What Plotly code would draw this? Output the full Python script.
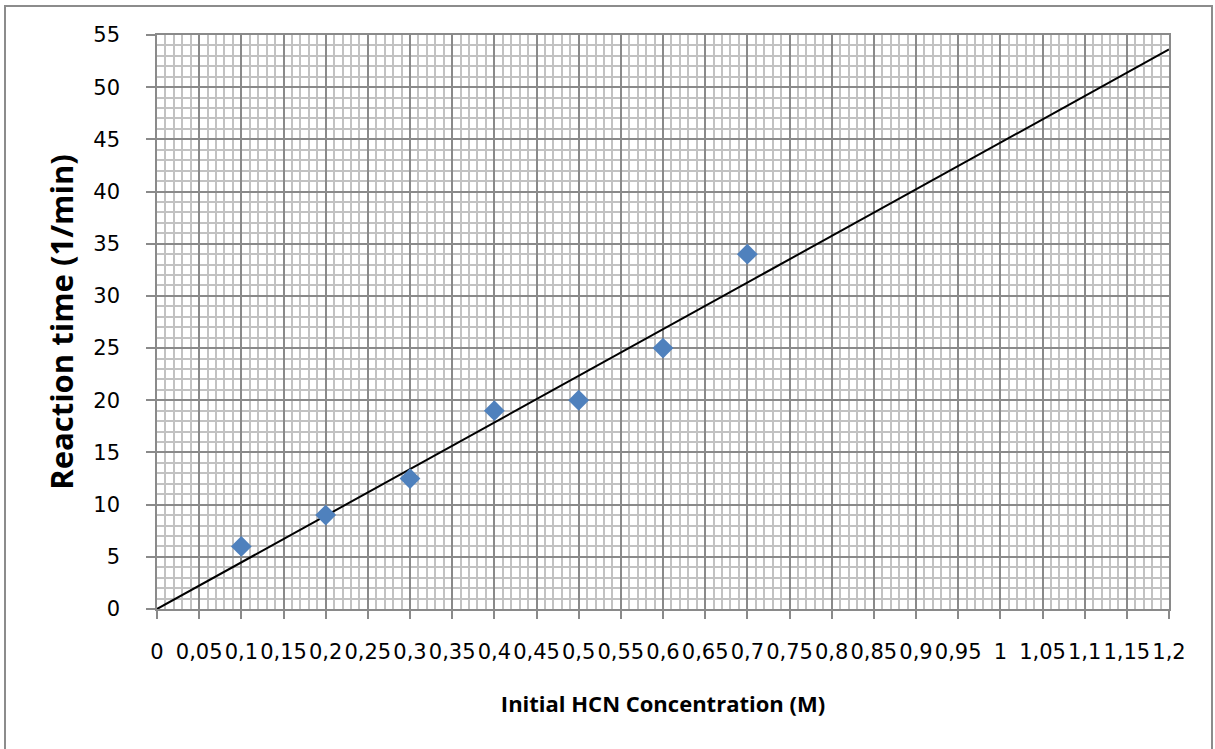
import numpy as np
import plotly.graph_objects as go

# measured points
hcn_conc = [0.1, 0.2, 0.3, 0.4, 0.5, 0.6, 0.7]
reaction_time = [6, 9, 12.5, 19, 20, 25, 34]

x_tickvals = [round(0.05 * i, 2) for i in range(25)]
x_ticktext = ["0", "0,05", "0,1", "0,15", "0,2", "0,25", "0,3", "0,35", "0,4", "0,45",
              "0,5", "0,55", "0,6", "0,65", "0,7", "0,75", "0,8", "0,85", "0,9", "0,95",
              "1", "1,05", "1,1", "1,15", "1,2"]

# linear trendline forced through the origin
x = np.array(hcn_conc)
y = np.array(reaction_time)
slope = (x * y).sum() / (x * x).sum()
trend_x = [0, 1.2]
trend_y = [0, slope * 1.2]

W, H = 1215, 749
L, R, T, B = 157, 46, 35, 140
pw, ph = W - L - R, H - T - B


def px_x(p):
    return (p - L) / pw


def px_y(p):
    return (H - B - p) / ph


fig = go.Figure()
fig.add_trace(go.Scatter(
    x=trend_x, y=trend_y, mode="lines",
    line=dict(color="black", width=2), hoverinfo="skip", showlegend=False,
))
fig.add_trace(go.Scatter(
    x=hcn_conc, y=reaction_time, mode="markers",
    marker=dict(symbol="diamond", size=16, color="#4F81BD", line=dict(width=0)),
    showlegend=False,
))

tick_font = "DejaVu Sans, sans-serif"
title_font = "Open Sans, sans-serif"
fig.update_layout(
    width=W, height=H,
    margin=dict(l=L, r=R, t=T, b=B),
    paper_bgcolor="white", plot_bgcolor="white",
    font=dict(family=tick_font, color="black"),
    shapes=[dict(
        type="rect", xref="paper", yref="paper",
        x0=px_x(5), x1=px_x(1212), y0=px_y(760), y1=px_y(6),
        line=dict(color="#8C8C8C", width=2), layer="below",
    )],
)
fig.update_xaxes(
    range=[0, 1.2], tickvals=x_tickvals, ticktext=x_ticktext,
    showgrid=True, gridcolor="#8A8A8A", gridwidth=1.6,
    minor=dict(dtick=0.01, tick0=0, showgrid=True, gridcolor="#C2C2C2", gridwidth=1.6),
    ticks="outside", ticklen=8, tickcolor="#8A8A8A", tickwidth=1.6,
    showline=True, linecolor="#8A8A8A", linewidth=1.6, mirror=True,
    zeroline=False, tickfont=dict(size=21), ticklabelstandoff=15,
    title=dict(text="<b>Initial HCN Concentration (M)</b>",
               font=dict(family=title_font, size=22), standoff=34),
)
fig.update_yaxes(
    range=[0, 55], dtick=5, tick0=0,
    showgrid=True, gridcolor="#8A8A8A", gridwidth=1.6,
    minor=dict(dtick=1, tick0=0, showgrid=True, gridcolor="#C2C2C2", gridwidth=1.6),
    ticks="outside", ticklen=9, tickcolor="#8A8A8A", tickwidth=1.6,
    showline=True, linecolor="#8A8A8A", linewidth=1.6, mirror=True,
    zeroline=False, tickfont=dict(size=21), ticklabelstandoff=22,
    title=dict(text="<b>Reaction time (1/min)</b>",
               font=dict(family=title_font, size=31), standoff=10),
)

# drop the page's default 8px body margin so the figure sits at the window origin
fig.write_html("out.html", config={"displayModeBar": False},
               post_script="document.body.style.margin='0';")
